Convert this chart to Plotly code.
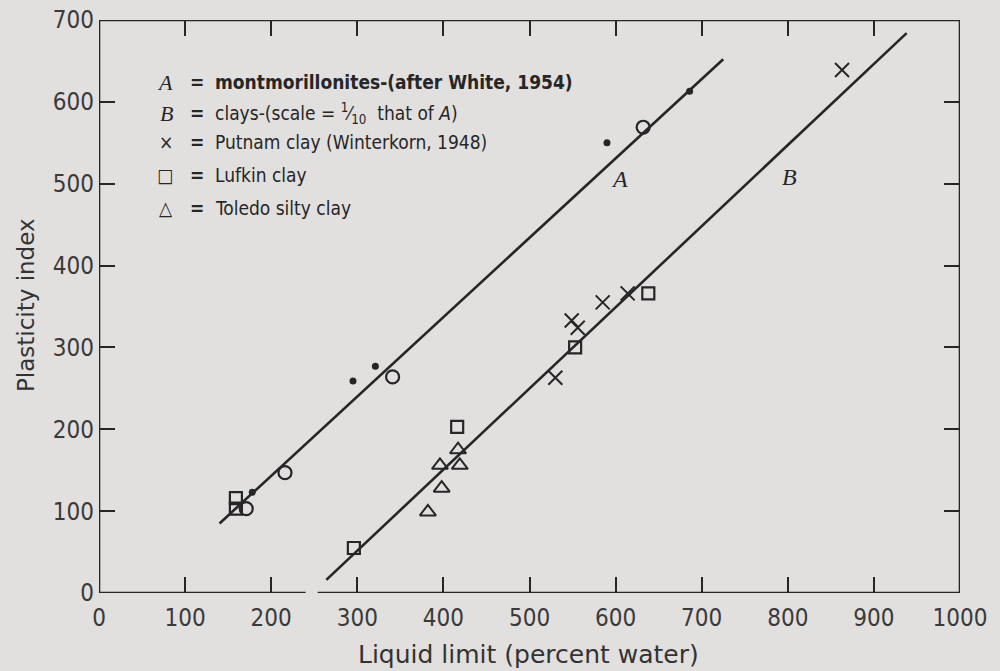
import plotly.graph_objects as go

# ---- data ----
line_A_x = [140, 725]
line_A_y = [85, 652]
line_B_x = [264, 938]
line_B_y = [16, 684]

A_dot_x = [178, 295, 321, 590, 686]
A_dot_y = [123, 259, 277, 550, 613]
A_circle_x = [171, 216, 341, 632]
A_circle_y = [103, 147, 264, 569]
A_square_x = [159, 159]
A_square_y = [116, 103]

putnam_x = [530, 549, 556, 585, 614, 863]
putnam_y = [263, 333, 324, 355, 366, 639]
lufkin_x = [296, 416, 553, 638]
lufkin_y = [55, 203, 300, 366]
toledo_x = [382, 398, 396, 419, 417]
toledo_y = [99, 128, 156, 156, 175]

x_ticks = list(range(0, 1001, 100))
y_ticks = list(range(0, 701, 100))

legend_symbols = ["<i>A</i>", "<i>B</i>", "×", "□", "△"]
legend_texts = [
    "<b>montmorillonites-(after White, 1954)</b>",
    "clays-(scale = <sup>1</sup>⁄<sub>10</sub>  that of <i>A</i>)",
    "Putnam clay (Winterkorn, 1948)",
    "Lufkin clay",
    "Toledo silty clay",
]

INK = "#262626"
BG = "#e2dfdf"
COND = "DejaVu Sans Condensed, Liberation Sans Narrow, DejaVu Sans, sans-serif"
SERIF = "Liberation Serif, DejaVu Serif, serif"

fig = go.Figure()

for lx, ly in [(line_A_x, line_A_y), (line_B_x, line_B_y)]:
    fig.add_trace(go.Scatter(x=lx, y=ly, mode="lines",
                             line=dict(color=INK, width=2.6), hoverinfo="skip"))

fig.add_trace(go.Scatter(x=A_dot_x, y=A_dot_y, mode="markers",
                         marker=dict(symbol="circle", size=7, color=INK)))
fig.add_trace(go.Scatter(x=A_circle_x, y=A_circle_y, mode="markers",
                         marker=dict(symbol="circle-open", size=13, color=INK,
                                     line=dict(width=2.2, color=INK))))
fig.add_trace(go.Scatter(x=A_square_x, y=A_square_y, mode="markers",
                         marker=dict(symbol="square-open", size=12, color=INK,
                                     line=dict(width=2.2, color=INK))))
fig.add_trace(go.Scatter(x=putnam_x, y=putnam_y, mode="markers",
                         marker=dict(symbol="x-thin-open", size=14, color=INK,
                                     line=dict(width=2, color=INK))))
fig.add_trace(go.Scatter(x=lufkin_x, y=lufkin_y, mode="markers",
                         marker=dict(symbol="square-open", size=12, color=INK,
                                     line=dict(width=2.2, color=INK))))
fig.add_trace(go.Scatter(x=toledo_x, y=toledo_y, mode="markers",
                         marker=dict(symbol="triangle-up-open", size=14, color=INK,
                                     line=dict(width=2, color=INK))))

# frame (bottom edge has a small break, as in the scan)
frame = dict(type="line", xref="x", yref="y", line=dict(color=INK, width=2.6), layer="above")
fig.add_shape(**frame, x0=0, y0=0, x1=240, y1=0)
fig.add_shape(**frame, x0=254, y0=0, x1=1000, y1=0)
fig.add_shape(**frame, x0=0, y0=700, x1=1000, y1=700)
fig.add_shape(**frame, x0=0, y0=0, x1=0, y1=700)
fig.add_shape(**frame, x0=1000, y0=0, x1=1000, y1=700)

# legend block
rows_y = [0.891, 0.837, 0.787, 0.729, 0.672]
for sym, txt, yy in zip(legend_symbols, legend_texts, rows_y):
    sym_font = dict(family=SERIF if "<i>" in sym else COND, size=22 if "<i>" in sym else 19, color=INK)
    fig.add_annotation(xref="paper", yref="paper", x=0.088, y=yy, text=sym,
                       showarrow=False, xanchor="right", yanchor="middle", font=sym_font)
    fig.add_annotation(xref="paper", yref="paper", x=0.114, y=yy, text="<b>=</b>",
                       showarrow=False, xanchor="center", yanchor="middle",
                       font=dict(family=COND, size=19, color=INK))
    fig.add_annotation(xref="paper", yref="paper", x=0.132, y=yy, text=txt,
                       showarrow=False, xanchor="left", yanchor="middle",
                       font=dict(family=COND, size=19, color=INK))

# line labels
fig.add_annotation(x=605, y=506, text="<i>A</i>", showarrow=False,
                   font=dict(family=SERIF, size=24, color=INK))
fig.add_annotation(x=802, y=508, text="<i>B</i>", showarrow=False,
                   font=dict(family=SERIF, size=24, color=INK))

# axis titles
fig.add_annotation(xref="paper", yref="paper", x=0.499, y=-0.108,
                   text="Liquid limit (percent water)", showarrow=False,
                   xanchor="center", yanchor="middle",
                   font=dict(family="DejaVu Sans, sans-serif", size=25, color="#333"))
fig.add_annotation(xref="paper", yref="paper", x=-0.0856, y=0.503,
                   text="Plasticity index", showarrow=False, textangle=-90,
                   xanchor="center", yanchor="middle",
                   font=dict(family="DejaVu Sans, sans-serif", size=23, color="#333"))

fig.update_layout(
    width=1000, height=671,
    margin=dict(l=99, r=40, t=20, b=78, autoexpand=False),
    paper_bgcolor=BG, plot_bgcolor=BG,
    showlegend=False,
)
fig.update_xaxes(range=[0, 1000], tickvals=x_ticks, ticks="inside", ticklen=16,
                 tickwidth=2, tickcolor=INK, mirror="ticks", showline=False,
                 showgrid=False, zeroline=False, automargin=False,
                 ticklabelstandoff=8,
                 tickfont=dict(family=COND, size=24, color="#3a3a3a"))
fig.update_yaxes(range=[0, 700], tickvals=y_ticks, ticks="inside", ticklen=16,
                 tickwidth=2, tickcolor=INK, mirror="ticks", showline=False,
                 showgrid=False, zeroline=False, automargin=False,
                 ticklabelstandoff=4,
                 tickfont=dict(family=COND, size=24, color="#3a3a3a"))

fig.write_html(
    "out.html",
    config={"displayModeBar": False},
    post_script=("document.body.style.margin='0';"
                 "document.body.style.overflow='hidden';"
                 "document.body.style.background='" + BG + "';"),
)
